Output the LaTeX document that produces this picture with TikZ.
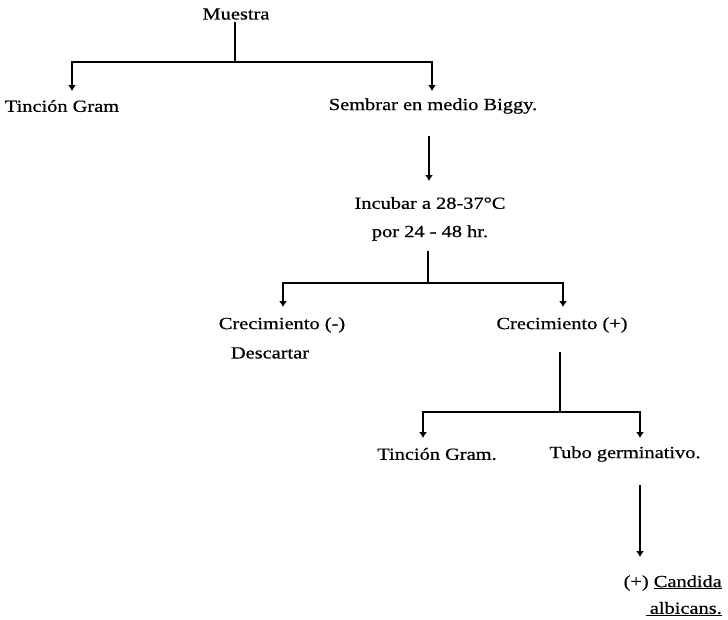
\documentclass[tikz,border=0pt]{standalone}
\usepackage{fontspec}
\setmainfont{Liberation Serif}[FakeStretch=1.2,FakeBold=0.6]
\usetikzlibrary{arrows.meta}
\begin{document}
\begin{tikzpicture}[x=1pt,y=-1pt,
  lbl/.style={inner sep=0pt,font=\fontsize{17}{20}\selectfont},
  ln/.style={line width=1.4pt},
  arr/.style={line width=1.4pt,-{Latex[length=6pt,width=8pt]}}]
\useasboundingbox (0,0) rectangle (728,619);
% nodes
\node[lbl] (muestra) at (236,14) {Muestra};
\node[lbl] (tg1) at (62,106) {Tinción Gram};
\node[lbl] (sembrar) at (433,106) {Sembrar en medio Biggy.};
\node[lbl] (incubar) at (430,203) {Incubar a 28-37°C};
\node[lbl] (por) at (430,233) {por 24 - 48 hr.};
\node[lbl] (cneg) at (282,325) {Crecimiento (-)};
\node[lbl] (desc) at (270,353) {Descartar};
\node[lbl] (cpos) at (562,325) {Crecimiento (+)};
\node[lbl] (tg2) at (437,454) {Tinción Gram.};
\node[lbl] (tubo) at (625,454) {Tubo germinativo.};
\node[lbl,anchor=east] (cand) at (722,583) {(+) \underline{Candida}};
\node[lbl,anchor=east] (alb) at (722,609) {\underline{\hspace{4pt}albicans.}};
% coordinates
\coordinate (j1) at (235,62);
\coordinate (a1) at (72,91);
\coordinate (a2) at (432,91);
\coordinate (s1) at (429,136);
\coordinate (s2) at (429,181);
\coordinate (j2) at (428,283);
\coordinate (a3) at (283,307);
\coordinate (a4) at (563,307);
\coordinate (c1) at (560,352);
\coordinate (j3) at (560,412);
\coordinate (a5) at (423,438);
\coordinate (a6) at (640,438);
\coordinate (t1) at (640,485);
\coordinate (t2) at (640,557);
% connectors
\draw[ln] (muestra.south) ++(-1,2) -- (j1);
\draw[arr] (j1) -| (a1);
\draw[arr] (j1) -| (a2);
\draw[arr] (s1) -- (s2);
\draw[ln] (por.south -| j2) ++(0,10) -- (j2);
\draw[arr] (j2) -| (a3);
\draw[arr] (j2) -| (a4);
\draw[ln] (c1) -- (j3);
\draw[arr] (j3) -| (a5);
\draw[arr] (j3) -| (a6);
\draw[arr] (t1) -- (t2);
\end{tikzpicture}
\end{document}
